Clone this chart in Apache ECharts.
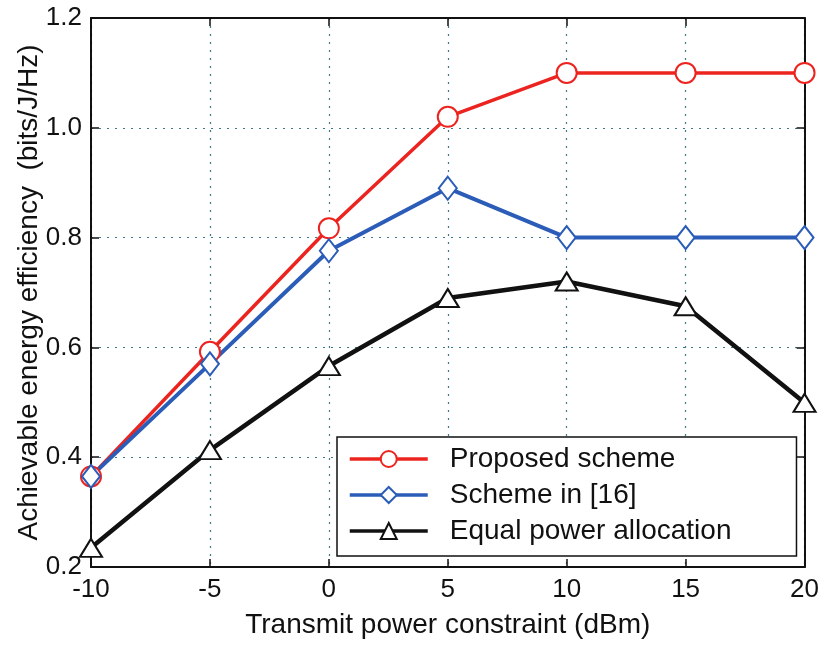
<!DOCTYPE html>
<html>
<head>
<meta charset="utf-8">
<script src="https://cdn.jsdelivr.net/npm/echarts@6/dist/echarts.min.js"></script>
<style>
  html, body { margin: 0; padding: 0; background: #fff; }
  #chart { width: 822px; height: 645px; }
</style>
</head>
<body>
<div id="chart"></div>
<script>
  // transmit power (dBm)
  var powerDbm = [-10, -5, 0, 5, 10, 15, 20]
  var proposed = [0.365, 0.592, 0.817, 1.02, 1.10, 1.10, 1.10]
  var scheme16 = [0.365, 0.57, 0.776, 0.89, 0.80, 0.80, 0.80]
  var equalPower = [0.235, 0.413, 0.566, 0.69, 0.72, 0.675, 0.499]
  var seriesNames = ['Proposed scheme', 'Scheme in [16]', 'Equal power allocation']

  function pairs(vals) {
    return powerDbm.map(function (x, i) { return [x, vals[i]] })
  }

  var font = 'Liberation Sans, Arial, sans-serif'
  var gridLine = { show: true, lineStyle: { color: '#3a7a8a', type: [2, 6], width: 1.2 } }
  var frameLine = { show: true, onZero: false, lineStyle: { color: '#111', width: 2 } }
  var tick = { show: true, inside: true, length: 8, lineStyle: { color: '#111', width: 1.5 } }

  function makeSeries(name, vals, color, symbol, size, width) {
    return {
      name: name,
      type: 'line',
      data: pairs(vals),
      symbol: symbol,
      symbolSize: size,
      showSymbol: true,
      lineStyle: { color: color, width: width },
      itemStyle: { color: color, borderColor: color, borderWidth: 3.5 },
      animation: false
    }
  }

  var chart = echarts.init(document.getElementById('chart'))
  chart.setOption({
    backgroundColor: '#fff',
    grid: { left: 91, right: 16, top: 18, bottom: 78 },
    xAxis: [{
      type: 'value', min: -10, max: 20, interval: 5,
      name: 'Transmit power constraint (dBm)',
      nameLocation: 'middle', nameGap: 44,
      nameTextStyle: { fontFamily: font, fontSize: 28, color: '#111' },
      axisLine: frameLine,
      axisTick: tick,
      axisLabel: { fontFamily: font, fontSize: 26, color: '#111', margin: 10 },
      splitLine: gridLine
    }, {
      type: 'value', min: -10, max: 20, interval: 5, position: 'top',
      axisLine: frameLine, axisTick: tick,
      axisLabel: { show: false }, splitLine: { show: false }
    }],
    yAxis: [{
      type: 'value', min: 0.2, max: 1.2, interval: 0.2,
      name: 'Achievable energy efficiency  (bits/J/Hz)',
      nameLocation: 'middle', nameGap: 48, nameMoveOverlap: false,
      nameTextStyle: { fontFamily: font, fontSize: 28, color: '#111' },
      axisLine: frameLine,
      axisTick: tick,
      axisLabel: { fontFamily: font, fontSize: 26, color: '#111', margin: 9,
        formatter: function (v) { return v.toFixed(1) } },
      splitLine: gridLine
    }, {
      type: 'value', min: 0.2, max: 1.2, interval: 0.2, position: 'right',
      axisLine: frameLine, axisTick: tick,
      axisLabel: { show: false }, splitLine: { show: false }
    }],
    legend: {
      data: seriesNames,
      orient: 'vertical',
      left: 337, top: 437,
      padding: [8, 65, 11, 11],
      itemGap: 8,
      itemWidth: 78, itemHeight: 20,
      borderColor: '#111', borderWidth: 1.5,
      backgroundColor: '#fff',
      lineStyle: { width: 3.5 },
      textStyle: { fontFamily: font, fontSize: 28, color: '#111', padding: [0, 0, 0, 17] }
    },
    series: [
      makeSeries(seriesNames[0], proposed, '#ec2420', 'emptyCircle', 20, 3.5),
      makeSeries(seriesNames[1], scheme16, '#2a5cb8', 'emptyDiamond', [18, 23], 4),
      makeSeries(seriesNames[2], equalPower, '#111111', 'emptyTriangle', [22, 18], 4.5)
    ]
  })
</script>
</body>
</html>
